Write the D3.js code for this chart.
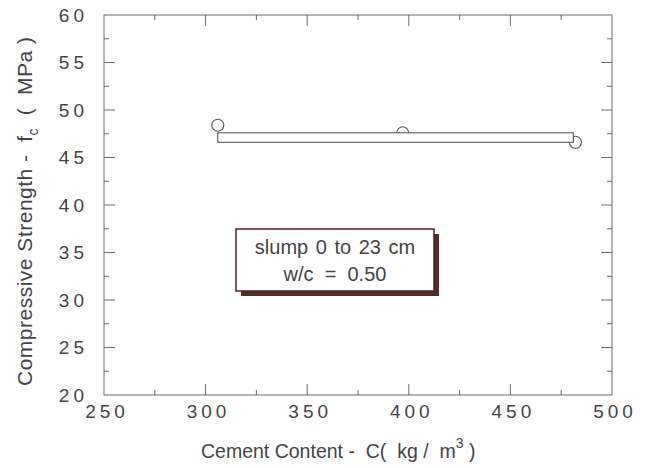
<!DOCTYPE html>
<html>
<head>
<meta charset="utf-8">
<script src="https://cdn.jsdelivr.net/npm/d3@7"></script>
<style>
  html, body { margin: 0; padding: 0; background: #ffffff; }
  svg { display: block; }
  text { font-family: "Liberation Sans", Arial, Helvetica, sans-serif; fill: #444444; }
</style>
</head>
<body>
<svg id="chart" width="655" height="468"></svg>
<script>
// ---- data ----
const cementContent = [306, 397, 482];          // kg/m3
const strength = [48.4, 47.6, 46.6];            // MPa
const fitBandCement = [306, 481];               // extent of mean-strength band
const fitBandStrength = [46.6, 47.6];           // lower/upper edge of band (MPa)
const xTicks = [250, 300, 350, 400, 450, 500];
const xMinorTicks = [275, 325, 375, 425, 475];
const yTicks = [20, 25, 30, 35, 40, 45, 50, 55, 60];
const yMinorTicks = [22.5, 27.5, 32.5, 37.5, 42.5, 47.5, 52.5, 57.5];
const noteLines = ["slump 0 to 23 cm", "w/c  =  0.50"];

// ---- layout ----
const svg = d3.select("#chart");
const L = 104, R = 612, T = 15, B = 395;
const x = d3.scaleLinear().domain([250, 500]).range([L, R]);
const y = d3.scaleLinear().domain([20, 60]).range([B, T]);
const axisColor = "#6a6a6a";
const ls = 4; // letter spacing for tick labels

// frame
svg.append("rect").attr("x", L).attr("y", T).attr("width", R - L).attr("height", B - T)
  .attr("fill", "none").attr("stroke", axisColor).attr("stroke-width", 1);

// ticks (inward, on all four sides)
const tickG = svg.append("g").attr("stroke", axisColor).attr("stroke-width", 1);
function xTick(v, len) {
  tickG.append("line").attr("x1", x(v)).attr("x2", x(v)).attr("y1", B).attr("y2", B - len);
  tickG.append("line").attr("x1", x(v)).attr("x2", x(v)).attr("y1", T).attr("y2", T + len);
}
function yTick(v, len) {
  tickG.append("line").attr("y1", y(v)).attr("y2", y(v)).attr("x1", L).attr("x2", L + len);
  tickG.append("line").attr("y1", y(v)).attr("y2", y(v)).attr("x1", R).attr("x2", R - len);
}
xTicks.slice(1, -1).forEach(v => xTick(v, 11));
xMinorTicks.forEach(v => xTick(v, 5));
yTicks.slice(1, -1).forEach(v => yTick(v, 11));
yMinorTicks.forEach(v => yTick(v, 5));

// tick labels
svg.append("g").selectAll("text").data(xTicks).join("text")
  .attr("x", d => x(d) + ls / 2 + 1).attr("y", 418)
  .attr("text-anchor", "middle").attr("font-size", 19)
  .attr("letter-spacing", ls)
  .text(d => d);
svg.append("g").selectAll("text").data(yTicks).join("text")
  .attr("x", 84 + ls).attr("y", d => y(d)).attr("dy", "0.36em")
  .attr("text-anchor", "end").attr("font-size", 19)
  .attr("letter-spacing", ls)
  .text(d => d);

// axis titles
const xt = svg.append("text").attr("x", 201).attr("y", 458).attr("font-size", 19.5)
  .style("white-space", "pre");
xt.append("tspan").text("Cement Content -  C(  kg /  m");
xt.append("tspan").attr("dy", -10).attr("font-size", 14).text("3");
xt.append("tspan").attr("dy", 10).text(" )");

const yt = svg.append("text").attr("transform", "translate(32,386) rotate(-90)")
  .attr("font-size", 21).attr("letter-spacing", 0.5).style("white-space", "pre");
yt.append("tspan").text("Compressive Strength -  f");
yt.append("tspan").attr("dy", 6).attr("font-size", 14).text("c");
yt.append("tspan").attr("dy", -6).text("  (  MPa )");

// data points
svg.append("g").selectAll("circle").data(cementContent).join("circle")
  .attr("cx", d => x(d)).attr("cy", (d, i) => y(strength[i]))
  .attr("r", 6).attr("fill", "white").attr("stroke", "#5a5a5a").attr("stroke-width", 1.1);

// mean band (drawn over the circles)
svg.append("rect")
  .attr("x", x(fitBandCement[0])).attr("width", x(fitBandCement[1]) - x(fitBandCement[0]))
  .attr("y", y(fitBandStrength[1])).attr("height", y(fitBandStrength[0]) - y(fitBandStrength[1]))
  .attr("fill", "white").attr("stroke", "#5a5a5a").attr("stroke-width", 1.1);

// annotation box with shadow
const bx = 236, by = 229, bw = 198, bh = 62, sh = 5;
svg.append("rect").attr("x", bx + sh).attr("y", by + sh).attr("width", bw).attr("height", bh)
  .attr("fill", "#5a2a2a");
svg.append("rect").attr("x", bx).attr("y", by).attr("width", bw).attr("height", bh)
  .attr("fill", "white").attr("stroke", "#4a2424").attr("stroke-width", 1.5);
svg.append("g").selectAll("text").data(noteLines).join("text")
  .attr("x", bx + bw / 2).attr("y", (d, i) => 254 + i * 27)
  .attr("text-anchor", "middle").attr("font-size", 20)
  .attr("word-spacing", (d, i) => i === 0 ? 2 : 0)
  .style("white-space", "pre")
  .text(d => d);
</script>
</body>
</html>
